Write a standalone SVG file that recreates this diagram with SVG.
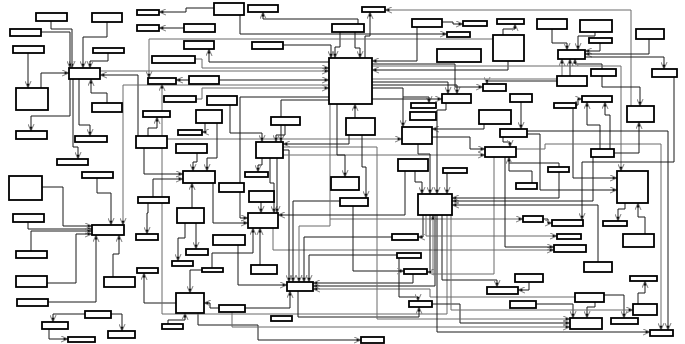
<svg xmlns="http://www.w3.org/2000/svg" width="685" height="344" viewBox="0 0 685 344">
<defs>
<style>
.n rect{fill:#fff;stroke:#000;stroke-width:1.8}
#edges polyline{fill:none;stroke:#1a1a1a;stroke-width:1;marker-end:url(#a)}
#edges polyline.g{stroke:#6a6a6a}
#edges polyline.na{marker-end:none}
</style>
<marker id="a" viewBox="0 0 8 8" refX="8" refY="4" markerWidth="7" markerHeight="7" orient="auto" markerUnits="userSpaceOnUse">
<path d="M0,0.5 L8,4 L0,7.5" fill="none" stroke="#888" stroke-width="1.2"/>
<path d="M3,2.5 L8,4 L3,5.5z" fill="#111"/>
</marker>
</defs>
<rect width="685" height="344" fill="#fff"/>
<g id="edges">
<polyline points="51,21 51,29 72,29 72,68"/>
<polyline points="41,32 70,32 70,68"/>
<polyline points="107,22 107,37 83,37 83,68"/>
<polyline points="108,53 108,61 90,61 90,68"/>
<polyline points="28,53 28,88"/>
<polyline points="41,88 41,73 69,73"/>
<polyline points="107,103 107,93 91,93 91,79"/>
<polyline points="138,136 138,75 100,75"/>
<polyline class="g" points="100,71 329,71"/>
<polyline points="70,79 70,116 31,116 31,131"/>
<polyline points="73,79 73,147 78,147 78,159"/>
<polyline points="79,79 79,125 90,125 90,136"/>
<polyline class="g" points="329,85 123,85 123,225"/>
<polyline points="97,178 97,193 111,193 111,225"/>
<polyline points="42,187 63,187 63,226 92,226"/>
<polyline points="28,222 28,229 92,229"/>
<polyline points="31,251 31,231 92,231"/>
<polyline points="47,283 76,283 76,234 92,234"/>
<polyline points="48,302 96,302 96,235"/>
<polyline points="113,277 113,254 119,254 119,235"/>
<polyline points="85,314 53,314 53,322"/>
<polyline points="111,314 122,314 122,331"/>
<polyline points="49,329 49,339 68,339"/>
<polyline points="176,303 144,303 144,273"/>
<polyline points="168,324 168,320 185,320 185,313"/>
<polyline points="198,313 198,325 258,325 258,340 361,340"/>
<polyline points="219,308 210,308 210,303 204,303"/>
<polyline class="g" points="447,215 447,314 162,314 162,84"/>
<polyline points="148,136 148,128 157,128 157,117"/>
<polyline class="g" points="167,139 402,139"/>
<polyline points="144,148 144,174 183,174"/>
<polyline points="153,197 153,179 183,179"/>
<polyline points="197,153 197,162 193,162 193,171"/>
<polyline points="205,123 205,132 202,132"/>
<polyline points="217,123 217,158 207,158 207,171"/>
<polyline points="192,208 192,183"/>
<polyline points="213,183 213,223 248,223"/>
<polyline points="148,203 148,213 147,213 147,234"/>
<polyline points="185,223 185,238 178,238 178,261"/>
<polyline points="196,223 196,249"/>
<polyline points="212,268 212,253 253,253 253,228"/>
<polyline points="202,270 190,270 190,293"/>
<polyline points="260,265 260,228"/>
<polyline class="g" points="273,228 273,250 554,250"/>
<polyline points="238,245 238,285 287,285"/>
<polyline points="245,308 290,308 290,291"/>
<polyline points="298,291 298,317 419,317 419,307"/>
<polyline points="283,150 289,150 289,282"/>
<polyline points="340,201 293,201 293,282"/>
<polyline points="392,237 304,237 304,282"/>
<polyline points="397,255 309,255 309,282"/>
<polyline class="g" points="330,104 330,226 299,226 299,282"/>
<polyline class="g" points="330,219 523,219"/>
<polyline points="329,97 240,97 240,218 248,218"/>
<polyline points="413,274 413,283 313,283"/>
<polyline points="435,215 435,286 313,286"/>
<polyline class="g" points="575,297 430,297 430,289 313,289"/>
<polyline points="399,258 399,297 418,297 418,301"/>
<polyline points="353,206 353,271 404,271"/>
<polyline points="423,215 423,237 418,237"/>
<polyline points="430,215 430,272 427,272"/>
<polyline points="432,304 460,304 460,323 570,323"/>
<polyline class="g" points="283,147 377,147 377,319 570,319"/>
<polyline class="g" points="232,312 232,327 570,327"/>
<polyline points="437,215 437,332 650,332"/>
<polyline points="358,24 358,19 263,19 263,12"/>
<polyline points="240,15 240,34 447,34"/>
<polyline points="365,58 365,36 370,36 370,12"/>
<polyline points="340,32 340,47 335,47 335,58"/>
<polyline points="355,32 355,48 360,48 360,58"/>
<polyline points="283,45 331,45 331,58"/>
<polyline class="g" points="631,106 631,10 385,10"/>
<polyline points="442,22 453,22 453,24 463,24"/>
<polyline points="503,35 503,29 515,29 515,24"/>
<polyline points="508,61 508,70 372,70"/>
<polyline points="552,29 552,43 567,43 567,50"/>
<polyline points="595,32 595,36 578,36 578,50"/>
<polyline points="600,43 600,51 585,51"/>
<polyline points="649,39 649,54 585,54"/>
<polyline points="585,57 664,57 664,69"/>
<polyline points="570,76 570,59"/>
<polyline points="602,69 602,64 575,64 575,59"/>
<polyline class="g" points="372,79 562,79 562,59"/>
<polyline points="557,81 487,81 487,84"/>
<polyline points="372,82 448,82 448,94"/>
<polyline points="372,85 457,85 457,94"/>
<polyline points="372,88 403,88 403,127"/>
<polyline points="403,97 429,97 429,103"/>
<polyline points="372,99 442,99"/>
<polyline points="372,64 455,64 455,87 483,87"/>
<polyline class="g" points="372,66 621,66 621,171"/>
<polyline points="573,108 573,178 617,178"/>
<polyline points="527,134 540,134 540,190 617,190"/>
<polyline points="527,131 668,131 668,330"/>
<polyline class="g" points="516,149 545,149 545,144 661,144 661,330"/>
<polyline points="674,77 674,162 582,162 582,220"/>
<polyline points="484,124 484,129 432,129"/>
<polyline points="503,137 503,142 510,142 510,147"/>
<polyline points="432,137 470,137 470,149 485,149"/>
<polyline class="g" points="283,155 485,155"/>
<polyline class="na" points="559,167 559,163 509,163"/>
<polyline points="532,183 532,171 509,171 509,157"/>
<polyline points="442,215 442,280 497,280 497,287"/>
<polyline class="g" points="494,157 494,274 433,274 433,215"/>
<polyline points="505,157 505,247 554,247"/>
<polyline points="529,282 529,290 518,290"/>
<polyline points="536,304 573,304 573,318"/>
<polyline points="595,302 595,307 587,307 587,318"/>
<polyline points="604,295 624,295 624,318"/>
<polyline points="638,304 638,293 645,293 645,281"/>
<polyline points="598,262 598,205 452,205"/>
<polyline points="645,234 645,217 638,217 638,203"/>
<polyline points="625,203 625,209 618,209 618,221"/>
<polyline points="559,172 559,198 452,198"/>
<polyline points="593,157 593,201 452,201"/>
<polyline points="405,171 405,215 278,215"/>
<polyline points="415,171 415,182 422,182 422,194"/>
<polyline points="418,144 418,154 430,154 430,194"/>
<polyline points="446,103 446,110 437,110 437,194"/>
<polyline points="447,173 447,194"/>
<polyline class="g" points="426,215 426,236 557,236"/>
<polyline class="g" points="451,215 451,310 633,310"/>
<polyline points="337,104 337,155 345,155 345,177"/>
<polyline points="355,118 355,104"/>
<polyline points="362,135 362,167 366,167 366,198"/>
<polyline points="349,135 349,144 283,144"/>
<polyline points="329,100 281,100 281,142"/>
<polyline points="230,105 230,133 262,133 262,142"/>
<polyline points="285,125 285,135 276,135 276,142"/>
<polyline points="270,158 270,183 274,183 274,213"/>
<polyline points="262,158 262,165 258,165 258,172"/>
<polyline points="261,202 261,213"/>
<polyline points="277,158 277,213"/>
<polyline points="214,8 186,8 186,12 159,12"/>
<polyline points="184,28 159,28"/>
<polyline class="g" points="493,39 149,39 149,78"/>
<polyline class="g" points="195,59 202,59 202,68 329,68"/>
<polyline points="329,62 209,62 209,49"/>
<polyline points="189,80 176,80"/>
<polyline class="g" points="196,99 202,99 202,88 329,88"/>
<polyline points="219,80 329,80"/>
<polyline points="600,149 600,125 587,125 587,102"/>
<polyline points="610,149 610,115 605,115 605,102"/>
<polyline points="576,105 578,105 578,99 582,99"/>
<polyline points="602,76 602,87 640,87 640,106"/>
<polyline points="614,153 639,153 639,122"/>
<polyline points="521,102 521,129"/>
<polyline points="417,27 417,61 372,61"/>
<polyline points="543,219 548,219 548,223 552,223"/>
</g>
<g id="n1" class="n"><rect x="36" y="13" width="31" height="8"/></g>
<g id="n2" class="n"><rect x="92" y="13" width="30" height="9"/></g>
<g id="n3" class="n"><rect x="10" y="29" width="31" height="7"/></g>
<g id="n4" class="n"><rect x="13" y="46" width="31" height="7"/></g>
<g id="n5" class="n"><rect x="93" y="48" width="31" height="5"/></g>
<g id="n6" class="n"><rect x="69" y="68" width="31" height="11"/></g>
<g id="n7" class="n"><rect x="16" y="88" width="32" height="22"/></g>
<g id="n8" class="n"><rect x="92" y="103" width="30" height="9"/></g>
<g id="n9" class="n"><rect x="16" y="131" width="31" height="8"/></g>
<g id="n10" class="n"><rect x="75" y="136" width="32" height="6"/></g>
<g id="n11" class="n"><rect x="57" y="159" width="31" height="6"/></g>
<g id="n12" class="n"><rect x="82" y="172" width="31" height="6"/></g>
<g id="n13" class="n"><rect x="9" y="176" width="33" height="24"/></g>
<g id="n14" class="n"><rect x="13" y="214" width="31" height="8"/></g>
<g id="n15" class="n"><rect x="92" y="225" width="32" height="10"/></g>
<g id="n16" class="n"><rect x="16" y="251" width="31" height="7"/></g>
<g id="n17" class="n"><rect x="16" y="276" width="31" height="11"/></g>
<g id="n18" class="n"><rect x="17" y="299" width="31" height="7"/></g>
<g id="n19" class="n"><rect x="104" y="277" width="31" height="10"/></g>
<g id="n20" class="n"><rect x="85" y="311" width="26" height="7"/></g>
<g id="n21" class="n"><rect x="42" y="322" width="26" height="7"/></g>
<g id="n22" class="n"><rect x="68" y="337" width="27" height="5"/></g>
<g id="n23" class="n"><rect x="108" y="331" width="27" height="7"/></g>
<g id="n24" class="n"><rect x="137" y="10" width="22" height="5"/></g>
<g id="n25" class="n"><rect x="137" y="25" width="22" height="6"/></g>
<g id="n26" class="n"><rect x="214" y="3" width="30" height="12"/></g>
<g id="n27" class="n"><rect x="184" y="24" width="31" height="8"/></g>
<g id="n28" class="n"><rect x="184" y="41" width="30" height="8"/></g>
<g id="n29" class="n"><rect x="152" y="56" width="43" height="7"/></g>
<g id="n30" class="n"><rect x="148" y="78" width="28" height="6"/></g>
<g id="n31" class="n"><rect x="189" y="76" width="30" height="8"/></g>
<g id="n32" class="n"><rect x="164" y="96" width="32" height="6"/></g>
<g id="n33" class="n"><rect x="207" y="96" width="30" height="9"/></g>
<g id="n34" class="n"><rect x="143" y="111" width="27" height="6"/></g>
<g id="n35" class="n"><rect x="196" y="110" width="26" height="13"/></g>
<g id="n36" class="n"><rect x="178" y="130" width="24" height="5"/></g>
<g id="n37" class="n"><rect x="136" y="136" width="31" height="12"/></g>
<g id="n38" class="n"><rect x="176" y="144" width="31" height="9"/></g>
<g id="n39" class="n"><rect x="183" y="171" width="32" height="12"/></g>
<g id="n40" class="n"><rect x="138" y="197" width="31" height="6"/></g>
<g id="n41" class="n"><rect x="177" y="208" width="27" height="15"/></g>
<g id="n42" class="n"><rect x="219" y="183" width="25" height="9"/></g>
<g id="n43" class="n"><rect x="136" y="234" width="22" height="6"/></g>
<g id="n44" class="n"><rect x="186" y="249" width="22" height="6"/></g>
<g id="n45" class="n"><rect x="172" y="261" width="21" height="5"/></g>
<g id="n46" class="n"><rect x="137" y="268" width="21" height="5"/></g>
<g id="n47" class="n"><rect x="202" y="268" width="21" height="4"/></g>
<g id="n48" class="n"><rect x="213" y="235" width="32" height="10"/></g>
<g id="n49" class="n"><rect x="176" y="293" width="28" height="20"/></g>
<g id="n50" class="n"><rect x="162" y="324" width="21" height="5"/></g>
<g id="n51" class="n"><rect x="219" y="305" width="26" height="7"/></g>
<g id="n52" class="n"><rect x="248" y="5" width="30" height="7"/></g>
<g id="n53" class="n"><rect x="252" y="42" width="31" height="7"/></g>
<g id="n54" class="n"><rect x="332" y="24" width="32" height="8"/></g>
<g id="n55" class="n"><rect x="362" y="7" width="23" height="5"/></g>
<g id="n56" class="n"><rect x="329" y="58" width="43" height="46"/></g>
<g id="n57" class="n"><rect x="271" y="117" width="29" height="8"/></g>
<g id="n58" class="n"><rect x="346" y="118" width="29" height="17"/></g>
<g id="n59" class="n"><rect x="256" y="142" width="27" height="16"/></g>
<g id="n60" class="n"><rect x="245" y="172" width="23" height="5"/></g>
<g id="n61" class="n"><rect x="249" y="191" width="25" height="11"/></g>
<g id="n62" class="n"><rect x="248" y="213" width="30" height="15"/></g>
<g id="n63" class="n"><rect x="251" y="265" width="26" height="9"/></g>
<g id="n64" class="n"><rect x="287" y="282" width="26" height="9"/></g>
<g id="n65" class="n"><rect x="271" y="316" width="21" height="5"/></g>
<g id="n66" class="n"><rect x="361" y="337" width="23" height="6"/></g>
<g id="n67" class="n"><rect x="331" y="177" width="28" height="13"/></g>
<g id="n68" class="n"><rect x="340" y="198" width="28" height="8"/></g>
<g id="n69" class="n"><rect x="412" y="19" width="30" height="8"/></g>
<g id="n70" class="n"><rect x="447" y="32" width="23" height="5"/></g>
<g id="n71" class="n"><rect x="437" y="49" width="44" height="13"/></g>
<g id="n72" class="n"><rect x="463" y="21" width="24" height="5"/></g>
<g id="n73" class="n"><rect x="497" y="19" width="27" height="5"/></g>
<g id="n74" class="n"><rect x="493" y="35" width="31" height="26"/></g>
<g id="n75" class="n"><rect x="442" y="94" width="29" height="9"/></g>
<g id="n76" class="n"><rect x="483" y="84" width="23" height="7"/></g>
<g id="n77" class="n"><rect x="510" y="94" width="22" height="8"/></g>
<g id="n78" class="n"><rect x="411" y="103" width="25" height="5"/></g>
<g id="n79" class="n"><rect x="410" y="112" width="26" height="8"/></g>
<g id="n80" class="n"><rect x="402" y="127" width="30" height="17"/></g>
<g id="n81" class="n"><rect x="479" y="110" width="32" height="14"/></g>
<g id="n82" class="n"><rect x="500" y="129" width="27" height="8"/></g>
<g id="n83" class="n"><rect x="485" y="147" width="31" height="10"/></g>
<g id="n84" class="n"><rect x="398" y="159" width="30" height="12"/></g>
<g id="n85" class="n"><rect x="443" y="168" width="24" height="5"/></g>
<g id="n86" class="n"><rect x="418" y="194" width="34" height="21"/></g>
<g id="n87" class="n"><rect x="548" y="167" width="21" height="5"/></g>
<g id="n88" class="n"><rect x="516" y="183" width="21" height="6"/></g>
<g id="n89" class="n"><rect x="392" y="234" width="26" height="6"/></g>
<g id="n90" class="n"><rect x="397" y="253" width="24" height="5"/></g>
<g id="n91" class="n"><rect x="404" y="269" width="23" height="5"/></g>
<g id="n92" class="n"><rect x="409" y="301" width="23" height="6"/></g>
<g id="n93" class="n"><rect x="487" y="287" width="31" height="7"/></g>
<g id="n94" class="n"><rect x="510" y="301" width="26" height="7"/></g>
<g id="n95" class="n"><rect x="523" y="216" width="20" height="6"/></g>
<g id="n96" class="n"><rect x="552" y="220" width="31" height="6"/></g>
<g id="n97" class="n"><rect x="537" y="19" width="30" height="10"/></g>
<g id="n98" class="n"><rect x="580" y="20" width="32" height="12"/></g>
<g id="n99" class="n"><rect x="589" y="38" width="23" height="5"/></g>
<g id="n100" class="n"><rect x="558" y="50" width="27" height="9"/></g>
<g id="n101" class="n"><rect x="636" y="29" width="28" height="10"/></g>
<g id="n102" class="n"><rect x="652" y="69" width="25" height="8"/></g>
<g id="n103" class="n"><rect x="591" y="69" width="25" height="7"/></g>
<g id="n104" class="n"><rect x="557" y="76" width="30" height="10"/></g>
<g id="n105" class="n"><rect x="554" y="103" width="22" height="5"/></g>
<g id="n106" class="n"><rect x="582" y="96" width="30" height="6"/></g>
<g id="n107" class="n"><rect x="627" y="106" width="27" height="16"/></g>
<g id="n108" class="n"><rect x="591" y="149" width="23" height="8"/></g>
<g id="n109" class="n"><rect x="617" y="171" width="31" height="32"/></g>
<g id="n110" class="n"><rect x="603" y="221" width="24" height="5"/></g>
<g id="n111" class="n"><rect x="557" y="234" width="24" height="5"/></g>
<g id="n112" class="n"><rect x="554" y="245" width="32" height="7"/></g>
<g id="n113" class="n"><rect x="623" y="234" width="31" height="13"/></g>
<g id="n114" class="n"><rect x="584" y="262" width="28" height="10"/></g>
<g id="n115" class="n"><rect x="515" y="274" width="28" height="8"/></g>
<g id="n116" class="n"><rect x="630" y="276" width="27" height="5"/></g>
<g id="n117" class="n"><rect x="575" y="293" width="29" height="9"/></g>
<g id="n118" class="n"><rect x="633" y="304" width="24" height="11"/></g>
<g id="n119" class="n"><rect x="570" y="318" width="32" height="11"/></g>
<g id="n120" class="n"><rect x="611" y="318" width="27" height="6"/></g>
<g id="n121" class="n"><rect x="650" y="330" width="23" height="6"/></g>
</svg>
